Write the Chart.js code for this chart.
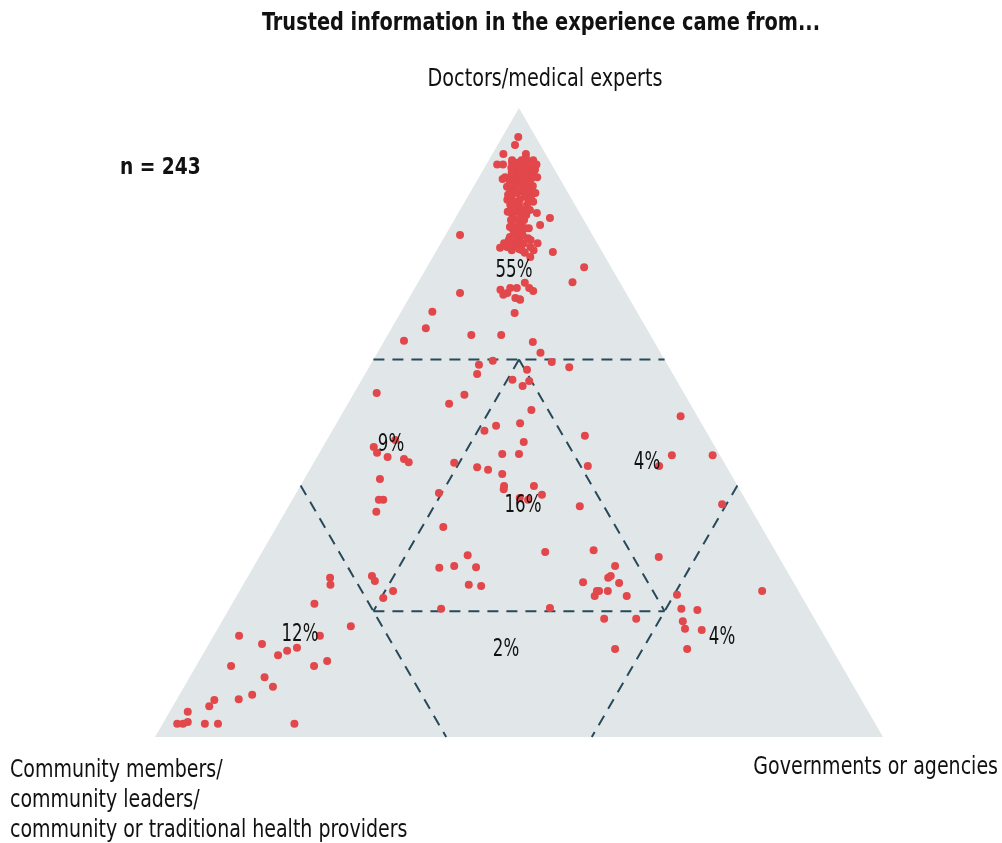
<!DOCTYPE html>
<html>
<head>
<meta charset="utf-8">
<script src="https://cdn.jsdelivr.net/npm/chart.js@4.4.1/dist/chart.umd.min.js"></script>
<style>
  body { margin: 0; background: #fff; }
  #wrap { position: relative; width: 1002px; height: 843px; overflow: hidden;
    font-family: 'Liberation Sans Narrow', 'DejaVu Sans Condensed', 'Roboto', sans-serif; color: #111; }
  #wrap canvas { position: absolute; left: 0; top: 0; }
  .txt { position: absolute; white-space: nowrap; line-height: 1; }
  .title { left: 541px; top: 9px; transform: translateX(-50%) scaleX(0.86); font-size: 25px; font-weight: 700; }
  .vertex { font-size: 24px; }
  .pct { font-size: 24px; transform: translate(-50%, -50%) scaleX(0.77); }
</style>
</head>
<body>
<div id="wrap">
  <canvas id="chart" width="1002" height="843"></canvas>
  <div class="txt title">Trusted information in the experience came from...</div>
  <div class="txt vertex" style="left:545px; top:66px; transform:translateX(-50%) scaleX(0.89);">Doctors/medical experts</div>
  <div class="txt" style="left:120px; top:155px; font-size:23px; font-weight:700; transform-origin:left; transform:scaleX(0.9);">n = 243</div>
  <div class="txt vertex" style="right:4px; top:754px; transform-origin:right; transform:scaleX(0.88);">Governments or agencies</div>
  <div class="txt vertex" style="left:10px; top:754px; line-height:30px; transform-origin:left; transform:scaleX(0.88);">Community members/<br>community leaders/<br>community or traditional health providers</div>
  <div id="pcts"></div>
</div>
<script>
// Each respondent: share (%) of trusted info from doctors and from governments;
// the community share is the remainder (100 - doctors - government).
const doctors = [
  95.4, 94.1, 92.7, 91.0, 91.0, 92.7, 92.1, 91.7, 91.7, 91.3, 89.0, 88.7, 87.5, 88.1, 86.7, 85.7, 85.1, 86.5, 85.4, 84.3,
  83.8, 82.7, 85.4, 83.3, 82.5, 81.4, 81.4, 80.6, 79.5, 79.5, 79.3, 78.5, 77.9, 77.8, 77.9, 78.2, 77.1, 79.8, 77.0, 74.7,
  72.3, 70.6, 71.1, 70.6, 69.8, 69.6, 71.4, 72.2, 70.9, 67.4, 67.6, 65.0, 63.0, 63.9, 63.9, 62.8, 61.1, 69.5, 76.3, 77.4,
  78.5, 80.1, 79.8, 81.1, 89.0, 86.5, 90.5, 90.6, 90.8, 90.5, 90.2, 89.8, 89.8, 89.7, 89.5, 89.8, 89.0, 88.9, 88.9, 88.7,
  88.9, 87.9, 88.1, 87.8, 87.6, 87.6, 87.0, 87.0, 86.8, 86.0, 85.9, 85.1, 84.6, 84.6, 83.6, 83.2, 83.0, 82.2, 81.7, 81.1,
  80.9, 80.5, 79.0, 78.9, 78.5, 77.4, 90.5, 88.2, 87.6, 85.9, 84.6, 82.2, 80.9, 77.6, 79.7, 79.0, 91.3, 91.0, 91.3, 91.7,
  90.5, 86.2, 84.3, 83.5, 83.8, 82.2, 86.8, 78.5, 77.4, 71.4, 70.3, 71.4, 83.5, 89.4,
  59.2, 59.8, 59.6, 58.8, 58.4, 57.7, 56.8, 56.6, 55.8, 54.7, 54.4, 53.0, 52.0, 49.9, 49.5, 48.7, 47.9, 46.9, 46.1, 45.2,
  44.5, 44.2, 43.7, 45.0, 45.0, 43.6, 43.1, 42.9, 42.5, 41.8, 39.9, 39.4, 39.9, 38.5, 37.7, 38.0, 41.0, 37.7, 37.7, 38.8,
  35.8, 36.7, 47.2, 51.0, 44.8, 44.8, 43.1, 37.0, 29.7, 28.6, 27.2, 24.6, 25.3, 25.6, 24.5, 23.2, 23.2, 22.4, 23.2, 22.4,
  22.6, 23.2, 20.4, 20.2, 18.8, 18.8, 18.4, 17.2, 17.0, 14.0, 14.0, 33.4, 28.9, 26.9, 27.2, 27.0, 24.2, 24.0, 29.4, 25.6,
  24.8, 23.2, 22.1, 20.4, 20.5, 25.3, 24.2, 21.2, 17.6, 16.1, 16.1, 14.8, 14.2, 13.7, 13.0, 11.3, 11.3, 12.1, 9.5, 8.0,
  6.7, 6.0, 5.9, 4.9, 4.0, 2.1, 2.1, 2.4, 2.1, 2.1, 2.1
];
const government = [
  2.2, 2.4, 1.5, 1.5, 2.3, 4.6, 4.9, 6.1, 3.2, 3.4, 8.0, 3.4, 4.6, 4.7, 8.2, 8.4, 9.4, 6.5, 7.4, 7.6,
  8.7, 7.8, 5.7, 10.8, 13.0, 12.2, 8.3, 8.9, 9.0, 10.4, 11.6, 13.3, 12.6, 8.5, 9.4, 10.6, 16.1, 2.0, 12.3, 21.6,
  21.2, 6.6, 11.9, 13.1, 14.6, 15.3, 14.0, 14.7, 16.5, 15.7, 4.3, 4.7, 2.7, 11.5, 15.6, 20.5, 22.4, 15.4, 13.4, 11.7,
  9.9, 9.4, 10.6, 8.2, 3.6, 9.0, 4.2, 4.8, 5.4, 6.3, 7.1, 4.9, 5.6, 6.4, 7.2, 4.1, 4.9, 5.7, 6.5, 7.3,
  4.2, 5.2, 5.8, 6.7, 7.4, 8.1, 5.3, 6.0, 7.0, 6.0, 7.8, 6.8, 7.7, 8.8, 7.8, 8.6, 9.5, 8.8, 9.5, 9.2,
  10.4, 9.9, 9.1, 10.4, 11.4, 10.3, 5.0, 7.2, 5.8, 8.7, 6.5, 9.6, 10.9, 11.2, 9.5, 12.1, 5.5, 6.9, 4.1, 4.5,
  3.7, 5.4, 7.2, 6.7, 9.6, 7.8, 7.7, 8.7, 13.3, 13.1, 12.7, 15.7, 7.0, 5.5,
  14.9, 16.5, 24.7, 27.5, 21.9, 15.4, 20.7, 23.1, 22.6, 3.1, 15.3, 13.9, 25.7, 25.2, 22.1, 20.9, 35.1, 27.2, 7.0, 7.9,
  9.7, 12.1, 13.0, 25.2, 27.5, 19.3, 37.9, 22.8, 24.5, 26.8, 28.0, 28.2, 32.1, 33.9, 32.4, 31.1, 10.4, 11.9, 12.5, 19.6,
  12.5, 40.0, 9.4, 46.7, 48.6, 54.2, 47.7, 59.4, 45.4, 54.9, 49.6, 46.5, 49.6, 49.8, 51.5, 49.1, 49.4, 49.2, 50.6, 53.6,
  60.4, 71.8, 62.1, 64.4, 52.3, 56.7, 63.3, 64.2, 66.6, 56.2, 66.1, 22.9, 28.5, 25.6, 27.5, 30.6, 31.0, 32.8, 38.9, 17.0,
  17.8, 21.1, 20.3, 29.1, 44.0, 11.4, 12.0, 11.3, 18.1, 3.5, 14.6, 7.3, 12.4, 11.3, 10.4, 4.8, 16.2, 17.6, 10.3, 12.2,
  10.0, 8.5, 5.2, 5.0, 2.5, 2.0, 2.8, 3.3, 5.8, 7.6, 18.1
];

// Share of respondents in each zone of the diagram
const zoneLabels = ['55%', '9%', '4%', '16%', '12%', '2%', '4%'];

// Where each zone label sits, as [doctors %, government %] (layout, not data)
const zoneAnchors = [[74.4, 12.1], [46.7, 9.0], [43.9, 45.6], [37.0, 32.0], [16.5, 11.6], [14.2, 41.1], [16.1, 69.9]];

// Dashed zone boundaries, endpoints as [doctors %, government %]
const boundaries = [
  [[60, 0], [60, 40]],
  [[40, 0], [0, 40]],
  [[40, 60], [0, 60]],
  [[60, 20], [20, 20]],
  [[60, 20], [20, 60]],
  [[20, 20], [20, 60]]
];

const RED = '#e2474b';
const TEAL = '#27495a';
const TRI = '#e1e7e9';

/** Ternary (doctors, government) -> cartesian point for the scatter scales. */
function toXY(d, g) {
  return { x: g + d / 2, y: d };
}

const datasets = [{
  data: doctors.map((d, i) => toXY(d, government[i])),
  pointRadius: 4, pointBackgroundColor: RED, pointBorderWidth: 0, showLine: false, clip: false, order: 0
}];
boundaries.forEach(seg => datasets.push({
  data: seg.map(p => toXY(p[0], p[1])),
  showLine: true, borderColor: TEAL, borderWidth: 2, borderDash: [11, 8],
  pointRadius: 0, fill: false, clip: false, order: 1
}));
datasets.push({
  data: [toXY(0, 0), toXY(100, 0), toXY(0, 100)],
  showLine: true, borderColor: 'transparent', borderWidth: 0, backgroundColor: TRI,
  fill: 'origin', pointRadius: 0, clip: false, order: 2
});

const pctBox = document.getElementById('pcts');
const pctEls = zoneLabels.map(t => {
  const el = document.createElement('div');
  el.className = 'txt pct';
  el.textContent = t;
  pctBox.appendChild(el);
  return el;
});

// Place the zone percentages using the chart's own scales
const placeLabels = {
  id: 'placeLabels',
  afterDraw(chart) {
    const sx = chart.scales.x, sy = chart.scales.y;
    zoneAnchors.forEach((a, i) => {
      const p = toXY(a[0], a[1]);
      pctEls[i].style.left = sx.getPixelForValue(p.x) + 'px';
      pctEls[i].style.top = sy.getPixelForValue(p.y) + 'px';
    });
  }
};

new Chart(document.getElementById('chart'), {
  type: 'scatter',
  data: { datasets },
  options: {
    responsive: false, animation: false, events: [],
    layout: { padding: { left: 155, right: 119, top: 108, bottom: 106 } },
    scales: {
      x: { type: 'linear', min: 0, max: 100, display: false },
      y: { type: 'linear', min: 0, max: 100, display: false }
    },
    plugins: { legend: { display: false }, tooltip: { enabled: false } }
  },
  plugins: [placeLabels]
});
</script>
</body>
</html>
